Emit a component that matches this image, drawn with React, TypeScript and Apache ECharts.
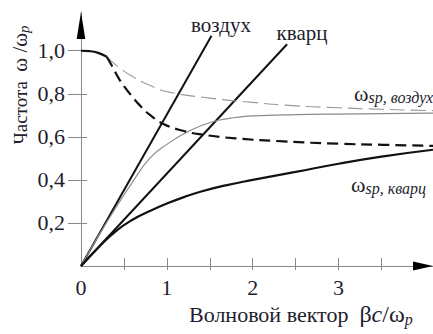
import React, { useEffect, useRef } from "react";
import * as echarts from "echarts";

// ---- data ----
const xTickValues = [0.5, 1, 1.5, 2, 2.5, 3, 3.5];
const xLabelValues = [0, 1, 2, 3];
const yTickValues = [0.2, 0.4, 0.6, 0.8, 1.0];
const yLabelValues = [0.2, 0.4, 0.6, 0.8, 1.0];
const X_MAX = 4.1;
const Y_MAX = 1.18;

// light lines
const airLine = [[0, 0], [1.52, 1.07]];
const quartzLine = [[0, 0], [2.4, 1.03]];

// surface plasmon, air (thin grey solid)
const sppAir = [
  [0, 0], [0.2, 0.138], [0.4, 0.268], [0.6, 0.39], [0.8, 0.5], [1.0, 0.565],
  [1.2, 0.615], [1.4, 0.652], [1.6, 0.677], [1.8, 0.69], [2.0, 0.697],
  [2.5, 0.703], [3.0, 0.706], [3.5, 0.708], [4.1, 0.71],
];

// surface plasmon, quartz (thick solid)
const sppQuartz = [
  [0, 0], [0.2, 0.085], [0.4, 0.16], [0.6, 0.215], [0.8, 0.255], [1.0, 0.29],
  [1.2, 0.32], [1.4, 0.346], [1.7, 0.376], [2.0, 0.4], [2.5, 0.437],
  [3.0, 0.475], [3.5, 0.508], [4.1, 0.54],
];

// common start of upper branches (thick solid)
const upperStart = [[0, 1.0], [0.1, 0.998], [0.2, 0.99], [0.3, 0.972]];

// upper branch, air (thin grey dashed)
const upperAir = [
  [0.3, 0.972], [0.45, 0.92], [0.6, 0.88], [0.8, 0.84], [1.0, 0.81],
  [1.5, 0.78], [2.0, 0.76], [2.5, 0.744], [3.0, 0.735], [3.5, 0.728], [4.1, 0.722],
];

// upper branch, quartz (thick dashed)
const upperQuartz = [
  [0.3, 0.972], [0.36, 0.93], [0.45, 0.865], [0.57, 0.8], [0.7, 0.74],
  [0.8, 0.703], [0.96, 0.66], [1.2, 0.627], [1.42, 0.61], [1.8, 0.593],
  [2.36, 0.579], [3.0, 0.568], [3.52, 0.563], [4.1, 0.558],
];

const FONT = "Liberation Serif";
const TEXT = "#1e1e2e";
const AXIS = "#888888";

export default function App() {
  const ref = useRef<HTMLDivElement>(null);

  useEffect(() => {
    if (!ref.current) return;
    const chart = echarts.init(ref.current, undefined, { renderer: "svg" });

    const baseX = {
      type: "value" as const,
      min: 0,
      max: X_MAX,
      position: "bottom" as const,
      splitLine: { show: false },
    };
    const baseY = {
      type: "value" as const,
      min: 0,
      max: Y_MAX,
      position: "left" as const,
      splitLine: { show: false },
    };

    const line = (data: number[][], color: string, width: number, type: any, smooth: number | boolean) => ({
      type: "line" as const,
      data,
      showSymbol: false,
      smooth,
      silent: true,
      lineStyle: { color, width, type, cap: "butt" as const },
      z: 3,
    });

    chart.setOption({
      animation: false,
      backgroundColor: "#ffffff",
      textStyle: { fontFamily: FONT },
      grid: { left: 81, right: 0, top: 12, bottom: 68, containLabel: false },
      xAxis: [
        {
          ...baseX,
          axisLine: { show: true, onZero: false, lineStyle: { color: AXIS, width: 1 } },
          axisTick: { show: true, inside: true, length: 8, customValues: xTickValues, lineStyle: { color: AXIS } },
          axisLabel: {
            show: true,
            customValues: xLabelValues,
            formatter: (v: number) => String(v),
            fontFamily: FONT,
            fontSize: 22,
            color: TEXT,
            margin: 10,
          },
        },
        {
          ...baseX,
          axisLine: { show: false },
          axisTick: { show: true, inside: false, length: 4, customValues: xTickValues, lineStyle: { color: AXIS } },
          axisLabel: { show: false },
        },
      ],
      yAxis: [
        {
          ...baseY,
          axisLine: { show: true, onZero: false, lineStyle: { color: AXIS, width: 1 } },
          axisTick: { show: true, inside: false, length: 13, customValues: yTickValues, lineStyle: { color: AXIS } },
          axisLabel: {
            show: true,
            customValues: yLabelValues,
            formatter: (v: number) => v.toFixed(1).replace(".", ","),
            fontFamily: FONT,
            fontSize: 22,
            color: TEXT,
            margin: 16,
          },
        },
        {
          ...baseY,
          axisLine: { show: false },
          axisTick: { show: true, inside: true, length: 6, customValues: yTickValues, lineStyle: { color: AXIS } },
          axisLabel: { show: false },
        },
      ],
      series: [
        line(airLine, "#111111", 2, "solid", false),
        line(quartzLine, "#111111", 2, "solid", false),
        line(sppAir, "#8c8c8c", 1.2, "solid", 0.5),
        line(sppQuartz, "#111111", 2.2, "solid", 0.5),
        line(upperStart, "#111111", 2.2, "solid", 0.5),
        line(upperAir, "#9a9a9a", 1.1, [15, 6], 0.5),
        line(upperQuartz, "#111111", 2.2, [11, 6], 0.5),
      ],
    });

    const xe = chart.convertToPixel({ seriesIndex: 0 }, [X_MAX, 0]) as number[];
    const ye = chart.convertToPixel({ seriesIndex: 0 }, [0, Y_MAX]) as number[];

    const sub = (size: number, pad: number) => ({
      fontFamily: FONT, fontSize: size, fontStyle: "italic", fill: TEXT, verticalAlign: "bottom", padding: [pad, 0, 0, 0],
    });

    chart.setOption({
      graphic: [
        {
          type: "polygon",
          shape: { points: [[xe[0], xe[1]], [xe[0] - 20, xe[1] - 4.5], [xe[0] - 20, xe[1] + 4.5]] },
          style: { fill: "#000000" },
          z: 10,
        },
        {
          type: "polygon",
          shape: { points: [[ye[0], ye[1]], [ye[0] - 4.3, ye[1] + 27], [ye[0] + 4.3, ye[1] + 27]] },
          style: { fill: "#000000" },
          z: 10,
        },
        {
          type: "text",
          x: 20,
          y: 85,
          rotation: Math.PI / 2,
          style: {
            text: "{a|Частота  }{b|ω /ω}{p|p}",
            align: "center",
            verticalAlign: "middle",
            fill: TEXT,
            rich: {
              a: { fontFamily: FONT, fontSize: 19, fill: TEXT },
              b: { fontFamily: FONT, fontSize: 21, fill: TEXT },
              p: sub(15, 8),
            },
          },
        },
        {
          type: "text",
          x: 189,
          y: 314,
          style: {
            text: "{a|Волновой вектор  }{b|β}{c|c}{b|/ω}{p|p}",
            align: "left",
            verticalAlign: "middle",
            fill: TEXT,
            rich: {
              a: { fontFamily: FONT, fontSize: 22, fill: TEXT },
              b: { fontFamily: FONT, fontSize: 24, fill: TEXT },
              c: { fontFamily: FONT, fontSize: 24, fontStyle: "italic", fill: TEXT },
              p: sub(16, 11),
            },
          },
        },
        {
          type: "text",
          x: 221,
          y: 25,
          style: { text: "воздух", align: "center", verticalAlign: "middle", fontFamily: FONT, fontSize: 21, fill: TEXT },
        },
        {
          type: "text",
          x: 302,
          y: 33,
          style: { text: "кварц", align: "center", verticalAlign: "middle", fontFamily: FONT, fontSize: 21, fill: TEXT },
        },
        {
          type: "text",
          x: 354,
          y: 93,
          style: {
            text: "{w|ω}{s|sp, воздух}",
            align: "left",
            verticalAlign: "middle",
            fill: TEXT,
            rich: {
              w: { fontFamily: FONT, fontSize: 22, fill: TEXT },
              s: sub(16, 8),
            },
          },
        },
        {
          type: "text",
          x: 351,
          y: 184,
          style: {
            text: "{w|ω}{s|sp, кварц}",
            align: "left",
            verticalAlign: "middle",
            fill: TEXT,
            rich: {
              w: { fontFamily: FONT, fontSize: 22, fill: TEXT },
              s: sub(16, 8),
            },
          },
        },
      ],
    });

    return () => chart.dispose();
  }, []);

  return <div ref={ref} style={{ width: 433, height: 334, position: "absolute", left: 0, top: 0 }} />;
}
